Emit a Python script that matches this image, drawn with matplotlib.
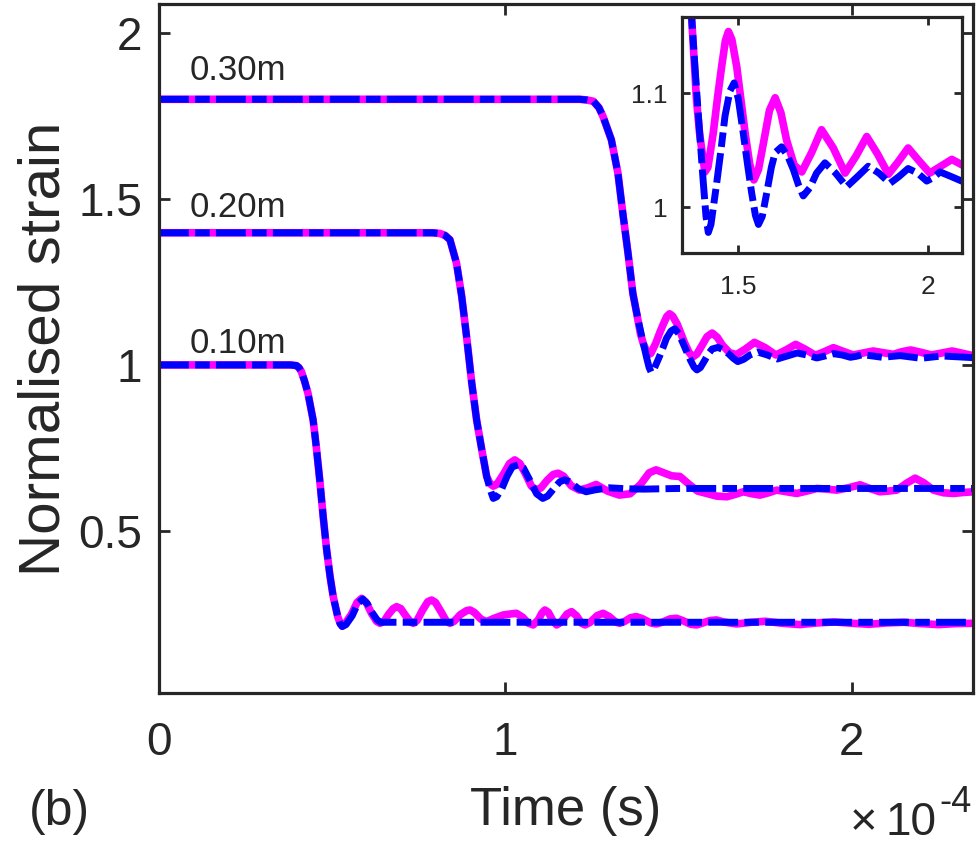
"""
Normalised strain against time for three lengths, with a zoomed inset
"""

import matplotlib.pyplot as plt

plt.rcParams["font.family"] = ["Liberation Sans", "DejaVu Sans"]
plt.rcParams["text.color"] = "#262626"
plt.rcParams["axes.labelcolor"] = "#262626"

# time in units of 1e-4 s, strain normalised
# 0.10m case
t10_mag = [0.0, 0.20, 0.38, 0.397, 0.404, 0.411, 0.420, 0.430, 0.445, 0.454,
           0.464, 0.474, 0.484, 0.494, 0.503, 0.516, 0.523, 0.529, 0.537, 0.556,
           0.572, 0.585, 0.598, 0.614, 0.628, 0.638, 0.650, 0.662, 0.676, 0.686,
           0.698, 0.712, 0.726, 0.734, 0.745, 0.760, 0.776, 0.787, 0.798, 0.814,
           0.830, 0.840, 0.852, 0.870, 0.888, 0.898, 0.910, 0.930, 0.946, 0.965,
           0.994, 1.015, 1.032, 1.050, 1.065, 1.080, 1.095, 1.105, 1.114, 1.124,
           1.138, 1.148, 1.160, 1.178, 1.191, 1.205, 1.220, 1.230, 1.245, 1.265,
           1.282, 1.300, 1.318, 1.330, 1.345, 1.362, 1.378, 1.395, 1.420, 1.436,
           1.455, 1.475, 1.494, 1.512, 1.535, 1.552, 1.570, 1.590, 1.609, 1.630,
           1.667, 1.71, 1.75, 1.80, 1.85, 1.90, 1.95, 2.00, 2.05, 2.10,
           2.15, 2.20, 2.25, 2.30, 2.35]
y10_mag = [1.0, 1.0, 1.0, 0.998, 0.992, 0.980, 0.952, 0.915, 0.834, 0.754,
           0.654, 0.543, 0.443, 0.362, 0.302, 0.242, 0.222, 0.214, 0.220, 0.250,
           0.285, 0.297, 0.285, 0.251, 0.228, 0.222, 0.228, 0.248, 0.266, 0.272,
           0.266, 0.245, 0.226, 0.222, 0.230, 0.260, 0.287, 0.292, 0.285, 0.257,
           0.228, 0.222, 0.228, 0.248, 0.260, 0.262, 0.255, 0.234, 0.227, 0.236,
           0.247, 0.250, 0.252, 0.240, 0.223, 0.217, 0.232, 0.252, 0.262, 0.255,
           0.228, 0.217, 0.225, 0.250, 0.257, 0.245, 0.222, 0.217, 0.225, 0.245,
           0.252, 0.242, 0.226, 0.222, 0.228, 0.239, 0.242, 0.236, 0.223, 0.220,
           0.226, 0.235, 0.237, 0.230, 0.219, 0.217, 0.223, 0.230, 0.232, 0.226,
           0.220, 0.225, 0.228, 0.222, 0.218, 0.223, 0.226, 0.222, 0.219, 0.223,
           0.225, 0.221, 0.218, 0.221, 0.222]
t10_blu = [0.0, 0.20, 0.38, 0.397, 0.404, 0.411, 0.420, 0.430, 0.445, 0.454,
           0.464, 0.474, 0.484, 0.494, 0.503, 0.516, 0.523, 0.529, 0.540, 0.558,
           0.574, 0.588, 0.602, 0.616, 0.630, 0.640, 1.2, 2.35]
y10_blu = [1.0, 1.0, 1.0, 0.998, 0.992, 0.980, 0.952, 0.915, 0.834, 0.754,
           0.654, 0.543, 0.443, 0.362, 0.302, 0.242, 0.220, 0.212, 0.218, 0.245,
           0.282, 0.295, 0.280, 0.253, 0.232, 0.225, 0.225, 0.225]

# 0.20m case
t20_mag = [0.0, 0.40, 0.79, 0.811, 0.826, 0.840, 0.859, 0.874, 0.888, 0.903,
           0.917, 0.932, 0.946, 0.956, 0.965, 0.975, 0.995, 1.012, 1.027, 1.042,
           1.058, 1.075, 1.089, 1.103, 1.120, 1.138, 1.152, 1.168, 1.190, 1.214,
           1.238, 1.262, 1.295, 1.329, 1.360, 1.390, 1.415, 1.435, 1.455, 1.480,
           1.504, 1.532, 1.555, 1.581, 1.610, 1.639, 1.663, 1.687, 1.712, 1.735,
           1.760, 1.783, 1.812, 1.841, 1.870, 1.899, 1.928, 1.957, 1.990, 2.024,
           2.052, 2.081, 2.105, 2.130, 2.160, 2.183, 2.208, 2.236, 2.265, 2.294,
           2.323, 2.352]
y20_mag = [1.398, 1.398, 1.398, 1.396, 1.390, 1.377, 1.306, 1.206, 1.085, 0.945,
           0.834, 0.744, 0.664, 0.642, 0.635, 0.640, 0.672, 0.703, 0.714, 0.703,
           0.672, 0.635, 0.623, 0.630, 0.652, 0.670, 0.674, 0.665, 0.636, 0.623,
           0.630, 0.640, 0.620, 0.608, 0.612, 0.640, 0.675, 0.684, 0.676, 0.666,
           0.664, 0.639, 0.620, 0.613, 0.605, 0.603, 0.610, 0.618, 0.612, 0.608,
           0.615, 0.623, 0.618, 0.613, 0.620, 0.628, 0.626, 0.623, 0.630, 0.639,
           0.628, 0.618, 0.620, 0.623, 0.645, 0.659, 0.645, 0.623, 0.615, 0.613,
           0.616, 0.618]
t20_blu = [0.0, 0.40, 0.79, 0.811, 0.826, 0.840, 0.859, 0.874, 0.888, 0.903,
           0.917, 0.932, 0.946, 0.956, 0.965, 0.975, 0.990, 1.005, 1.020, 1.037,
           1.052, 1.072, 1.090, 1.108, 1.122, 1.140, 1.157, 1.171, 1.186, 1.210,
           1.233, 1.26, 1.30, 1.35, 1.40, 1.50, 1.70, 1.90, 2.10, 2.352]
y20_blu = [1.398, 1.398, 1.398, 1.396, 1.390, 1.377, 1.306, 1.206, 1.085, 0.945,
           0.834, 0.744, 0.664, 0.625, 0.598, 0.603, 0.628, 0.665, 0.693, 0.699,
           0.690, 0.650, 0.612, 0.598, 0.605, 0.628, 0.648, 0.654, 0.648, 0.628,
           0.618, 0.624, 0.630, 0.627, 0.626, 0.628, 0.628, 0.628, 0.628, 0.628]

# 0.30m case
t30_mag = [0.0, 0.60, 1.20, 1.215, 1.235, 1.254, 1.270, 1.282, 1.306, 1.325,
           1.339, 1.354, 1.368, 1.377, 1.390, 1.398, 1.404, 1.412, 1.420, 1.434,
           1.446, 1.456, 1.466, 1.474, 1.483, 1.496, 1.507, 1.518, 1.530, 1.541,
           1.553, 1.566, 1.582, 1.597, 1.612, 1.627, 1.647, 1.667, 1.693, 1.719,
           1.750, 1.781, 1.810, 1.838, 1.866, 1.895, 1.921, 1.947, 1.975, 2.004,
           2.033, 2.062, 2.090, 2.12, 2.145, 2.17, 2.20, 2.23, 2.26, 2.29,
           2.32, 2.35]
y30_mag = [1.800, 1.800, 1.800, 1.800, 1.798, 1.794, 1.775, 1.748, 1.678, 1.577,
           1.457, 1.337, 1.216, 1.167, 1.094, 1.065, 1.050, 1.031, 1.035, 1.065,
           1.098, 1.123, 1.146, 1.154, 1.147, 1.123, 1.094, 1.065, 1.038, 1.024,
           1.033, 1.056, 1.085, 1.096, 1.083, 1.059, 1.037, 1.031, 1.048, 1.068,
           1.052, 1.030, 1.045, 1.062, 1.047, 1.029, 1.040, 1.052, 1.041, 1.030,
           1.036, 1.042, 1.037, 1.032, 1.040, 1.045, 1.038, 1.030, 1.036, 1.042,
           1.035, 1.028]
t30_blu = [0.0, 0.60, 1.20, 1.215, 1.235, 1.254, 1.270, 1.282, 1.306, 1.325,
           1.339, 1.354, 1.368, 1.377, 1.386, 1.395, 1.408, 1.415, 1.421, 1.428,
           1.443, 1.455, 1.465, 1.478, 1.489, 1.500, 1.513, 1.525, 1.535, 1.545,
           1.553, 1.563, 1.575, 1.587, 1.597, 1.614, 1.630, 1.645, 1.658, 1.671,
           1.688, 1.706, 1.728, 1.756, 1.785, 1.814, 1.842, 1.870, 1.899, 1.923,
           1.947, 1.972, 1.996, 2.013, 2.031, 2.060, 2.088, 2.14, 2.20, 2.26,
           2.35]
y30_blu = [1.800, 1.800, 1.800, 1.800, 1.798, 1.794, 1.775, 1.748, 1.678, 1.577,
           1.457, 1.337, 1.216, 1.167, 1.122, 1.080, 1.021, 0.992, 0.978, 0.985,
           1.021, 1.052, 1.080, 1.102, 1.109, 1.095, 1.065, 1.036, 1.013, 0.993,
           0.985, 0.992, 1.013, 1.035, 1.048, 1.053, 1.045, 1.033, 1.020, 1.010,
           1.017, 1.030, 1.039, 1.030, 1.018, 1.027, 1.036, 1.030, 1.021, 1.027,
           1.034, 1.030, 1.023, 1.026, 1.031, 1.027, 1.023, 1.028, 1.020, 1.027,
           1.022]

labels = ["0.10m", "0.20m", "0.30m"]
label_y = [1.036, 1.446, 1.858]

curves = [(t10_mag, y10_mag, t10_blu, y10_blu),
          (t20_mag, y20_mag, t20_blu, y20_blu),
          (t30_mag, y30_mag, t30_blu, y30_blu)]

mag_col = "#ff00ff"
blu_col = "#0000ff"
dash = (0, (4.3, 0.9, 2.1, 0.9))
edge = "#262626"
W, H = 979.0, 864.0


def style_axes(ax, size, ticklen):
    # MATLAB-like box with ticks inside on all sides
    for s in ax.spines.values():
        s.set_linewidth(2.3)
        s.set_color(edge)
    ax.tick_params(direction="in", top=True, right=True, length=ticklen,
                   width=2.0, color=edge, labelsize=size, labelcolor=edge)


def draw_pair(ax, tm, ym, tb, yb):
    ax.plot(tm, ym, color=mag_col, lw=5.5, solid_joinstyle="round",
            solid_capstyle="round")
    ax.plot(tb, yb, color=blu_col, lw=5.0, linestyle=dash,
            dash_joinstyle="round")


fig = plt.figure(figsize=(9.79, 8.64), dpi=100)
ax = fig.add_axes([159 / W, 1 - 693 / H, 814 / W, 689 / H])

for (tm, ym, tb, yb) in curves:
    draw_pair(ax, tm, ym, tb, yb)

for lab, ly in zip(labels, label_y):
    ax.text(0.087, ly, lab, fontsize=25, ha="left", va="baseline")

ax.set_xlim(0, 2.35)
ax.set_ylim(0.012, 2.087)
ax.set_xticks([0, 1, 2])
ax.set_xticklabels(["0", "1", "2"])
ax.set_yticks([0.5, 1, 1.5, 2])
ax.set_yticklabels(["0.5", "1", "1.5", "2"])
style_axes(ax, 33, 8)
ax.tick_params(axis="x", pad=20)
ax.tick_params(axis="y", pad=12)

ax.set_xlabel("Time (s)", fontsize=38, va="baseline")
ax.xaxis.set_label_coords(0.5, (693 - 825) / 689)
ax.set_ylabel("Normalised strain", fontsize=42, va="baseline")
ax.yaxis.set_label_coords((60 - 159) / 814, 0.5)

fig.text(29 / W, 1 - 825 / H, "(b)", fontsize=36, ha="left", va="baseline")
fig.text(864 / W, 1 - 823 / H, "\u00d7", fontsize=34, ha="center",
         va="center")
fig.text(886 / W, 1 - 835 / H, "10", fontsize=33, ha="left", va="baseline")
fig.text(939 / W, 1 - 812 / H, "-4", fontsize=26, ha="left", va="baseline")

# inset zoom of the 0.30m case
axin = fig.add_axes([681.7 / W, 1 - 253 / H, 280 / W, 236.3 / H])
draw_pair(axin, t30_mag, y30_mag, t30_blu, y30_blu)
axin.set_xlim(1.351, 2.088)
axin.set_ylim(0.960, 1.167)
axin.set_xticks([1.5, 2])
axin.set_xticklabels(["1.5", "2"])
axin.set_yticks([1, 1.1])
axin.set_yticklabels(["1", "1.1"])
style_axes(axin, 19, 6)
axin.tick_params(axis="x", pad=16)
axin.tick_params(axis="y", pad=10)

fig.savefig("out.png", dpi=100)
